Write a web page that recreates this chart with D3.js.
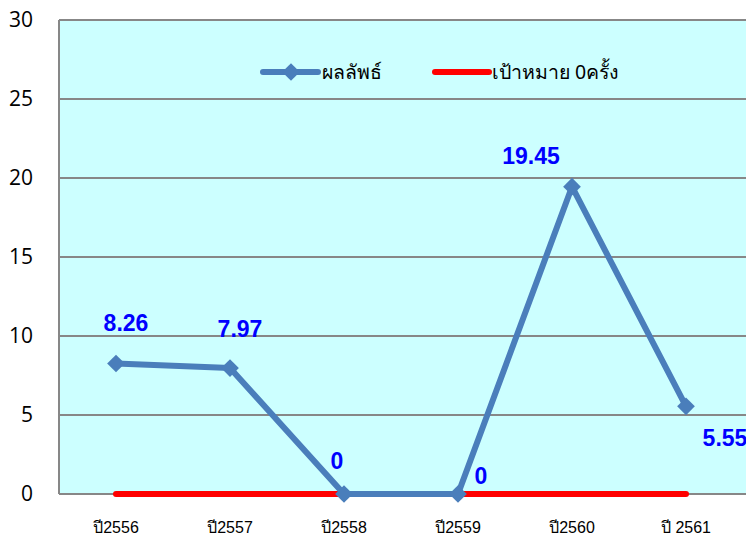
<!DOCTYPE html>
<html>
<head>
<meta charset="utf-8">
<script src="https://cdn.jsdelivr.net/npm/d3@7"></script>
<style>
  body { margin: 0; background: #fff; }
  svg { display: block; }
</style>
</head>
<body>
<svg id="chart"></svg>
<script>
// data
var years = ["ปี2556", "ปี2557", "ปี2558", "ปี2559", "ปี2560", "ปี 2561"];
var results = [8.26, 7.97, 0, 0, 19.45, 5.55];
var targets = [0, 0, 0, 0, 0, 0];
var yTicks = [0, 5, 10, 15, 20, 25, 30];
var seriesNames = ["ผลลัพธ์", "เป้าหมาย 0ครั้ง"];
// label nudges (px) for each data label
var labelDx = [10, 10, -7, 23, -41, 39];
var labelDy = [-41, -39, -33, -18, -31, 32];

var W = 746, H = 540;
var margin = {top: 20, right: 3, bottom: 46, left: 59};
var width = W - margin.left - margin.right,
    height = H - margin.top - margin.bottom;

var svg = d3.select("#chart")
    .attr("width", W)
    .attr("height", H);

var g = svg.append("g")
    .attr("transform", "translate(" + margin.left + "," + margin.top + ")");

var x = d3.scaleBand()
    .domain(years)
    .range([0, width]);

var y = d3.scaleLinear()
    .domain([0, 30])
    .range([height, 0]);

// plot background
g.append("rect")
    .attr("x", 0)
    .attr("y", 0)
    .attr("width", W - margin.left)
    .attr("height", height)
    .attr("fill", "#ccffff");

// gridlines
g.append("g")
    .selectAll("line")
    .data(yTicks)
    .enter().append("line")
    .attr("x1", 0)
    .attr("x2", W - margin.left)
    .attr("y1", function(d) { return y(d); })
    .attr("y2", function(d) { return y(d); })
    .attr("stroke", "#878787")
    .attr("stroke-width", 2);

// left axis line
g.append("line")
    .attr("x1", 0).attr("x2", 0)
    .attr("y1", 0).attr("y2", height)
    .attr("stroke", "#878787")
    .attr("stroke-width", 2);

// y tick labels
g.append("g")
    .selectAll("text")
    .data(yTicks)
    .enter().append("text")
    .attr("x", -26)
    .attr("y", function(d) { return y(d); })
    .attr("dy", "0.35em")
    .attr("text-anchor", "end")
    .attr("font-family", "Open Sans, Liberation Sans, sans-serif")
    .attr("font-size", "21px")
    .attr("fill", "#000")
    .text(function(d) { return d; });

// x labels
g.append("g")
    .selectAll("text")
    .data(years)
    .enter().append("text")
    .attr("x", function(d) { return x(d) + x.bandwidth() / 2; })
    .attr("y", height + 39)
    .attr("text-anchor", "middle")
    .attr("font-family", "Liberation Sans, Arial, sans-serif")
    .attr("font-size", "16px")
    .attr("fill", "#000")
    .text(function(d) { return d; });

var line = d3.line()
    .x(function(d, i) { return x(years[i]) + x.bandwidth() / 2; })
    .y(function(d) { return y(d); });

// target line
g.append("path")
    .datum(targets)
    .attr("fill", "none")
    .attr("stroke", "#ff0000")
    .attr("stroke-width", 6)
    .attr("stroke-linecap", "round")
    .attr("d", line);

// results line
g.append("path")
    .datum(results)
    .attr("fill", "none")
    .attr("stroke", "#4a7ebb")
    .attr("stroke-width", 6)
    .attr("stroke-linejoin", "round")
    .attr("d", line);

var diamond = d3.symbol().type(d3.symbolDiamond2).size(200);

g.append("g")
    .selectAll("path")
    .data(results)
    .enter().append("path")
    .attr("d", diamond)
    .attr("transform", function(d, i) {
        return "translate(" + (x(years[i]) + x.bandwidth() / 2) + "," + y(d) + ")";
    })
    .attr("fill", "#4a7ebb");

// data labels
g.append("g")
    .selectAll("text")
    .data(results)
    .enter().append("text")
    .attr("x", function(d, i) { return x(years[i]) + x.bandwidth() / 2 + labelDx[i]; })
    .attr("y", function(d, i) { return y(d) + labelDy[i]; })
    .attr("dy", "0.35em")
    .attr("text-anchor", "middle")
    .attr("font-family", "Liberation Sans, Arial, sans-serif")
    .attr("font-weight", "bold")
    .attr("font-size", "23px")
    .attr("fill", "#0000ff")
    .text(function(d) { return d; });

// legend
var legend = svg.append("g")
    .attr("transform", "translate(263,72)");

legend.append("line")
    .attr("x1", 0).attr("x2", 55)
    .attr("y1", 0).attr("y2", 0)
    .attr("stroke", "#4a7ebb")
    .attr("stroke-width", 6)
    .attr("stroke-linecap", "round");

legend.append("path")
    .attr("d", diamond)
    .attr("transform", "translate(28,0)")
    .attr("fill", "#4a7ebb");

legend.append("text")
    .attr("x", 59)
    .attr("y", 0)
    .attr("dy", "0.35em")
    .attr("font-family", "Noto Sans, sans-serif")
    .attr("font-size", "19.5px")
    .attr("fill", "#000")
    .text(seriesNames[0]);

legend.append("line")
    .attr("x1", 172).attr("x2", 226)
    .attr("y1", 0).attr("y2", 0)
    .attr("stroke", "#ff0000")
    .attr("stroke-width", 6)
    .attr("stroke-linecap", "round");

legend.append("text")
    .attr("x", 229)
    .attr("y", 0)
    .attr("dy", "0.35em")
    .attr("font-family", "Noto Sans, sans-serif")
    .attr("font-size", "19.5px")
    .attr("fill", "#000")
    .text(seriesNames[1]);
</script>
</body>
</html>
